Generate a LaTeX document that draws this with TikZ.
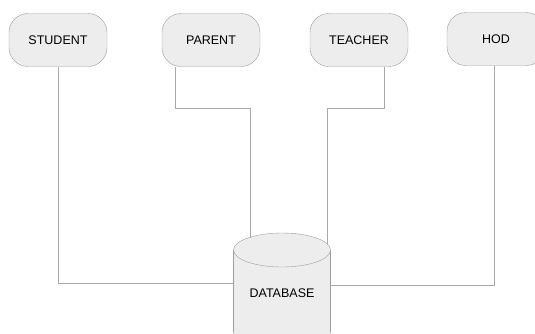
\documentclass[tikz,border=0pt]{standalone}
\usepackage{fontspec}
\setmainfont{Liberation Sans}

\definecolor{boxfill}{HTML}{EDEDED}
\definecolor{boxline}{HTML}{9E9E9E}
\definecolor{wire}{HTML}{A8A8A8}

\tikzset{
  actor/.style={draw=boxline, fill=boxfill, rounded corners=19pt,
    minimum width=98pt, minimum height=53pt, font=\fontsize{12.5}{14}\selectfont},
  store/.style={minimum width=97pt, font=\fontsize{12.5}{14}\selectfont},
  link/.style={draw=wire, line width=0.8pt}
}

\begin{document}
\begin{tikzpicture}[x=1pt, y=-1pt]
  % page frame
  \useasboundingbox (0,0) rectangle (535,333);

  % the four users
  \node[actor] (student) at (58,40) {STUDENT};
  \node[actor] (parent) at (211,40) {PARENT};
  \node[actor] (teacher) at (359,40) {TEACHER};
  \node[actor] (hod) at (496,39) {HOD};

  % the store: a cylinder, bottom first
  \draw[draw=boxline, fill=boxfill] (282,332) ellipse [x radius=48.5, y radius=17];
  \fill[boxfill] (233.5,250) rectangle (330.5,332);
  \draw[boxline] (233.5,250) -- (233.5,332) (330.5,250) -- (330.5,332);
  \draw[draw=boxline, fill=boxfill] (282,250) ellipse [x radius=48.5, y radius=17];
  \node[store] (db) at (282,293) {DATABASE};

  % where the wires meet the top
  \coordinate (dbinL) at (250,237.5);
  \coordinate (dbinR) at (327,243.5);

  % wires
  \draw[link] (student.south) |- ([yshift=10pt]db.west);
  \draw[link] ([xshift=14pt]parent.south west) |- (250,108) -- (dbinL);
  \draw[link] ([xshift=-24pt]teacher.south east) |- (327,108) -- (dbinR);
  \draw[link] ([xshift=-2pt]hod.south) |- ([yshift=8pt]db.east);
\end{tikzpicture}
\end{document}
